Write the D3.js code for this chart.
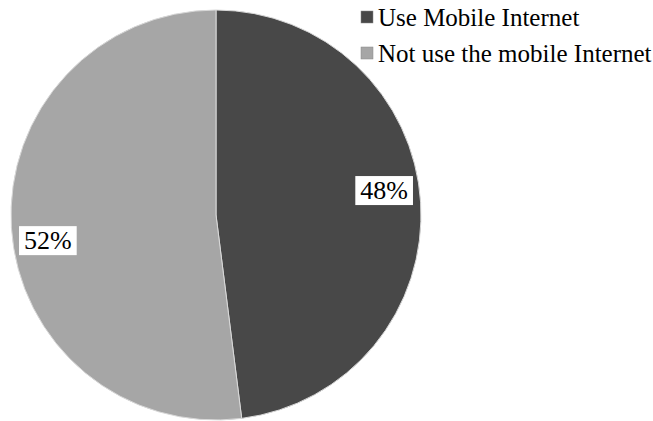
<!DOCTYPE html>
<html>
<head>
<meta charset="utf-8">
<script src="https://cdn.jsdelivr.net/npm/d3@7"></script>
<style>
  body { margin: 0; background: #fff; }
  text { font-family: "Liberation Serif", "Times New Roman", serif; }
</style>
</head>
<body>
<div id="chart"></div>
<script>
var svgWidth = 653;
var svgHeight = 421;

// data
var categories = ["Use Mobile Internet", "Not use the mobile Internet"];
var shares = [48, 52];
var colors = ["#484848", "#a6a6a6"];

var cx = 216, cy = 215, radius = 205;

var svg = d3.select("#chart")
  .append("svg")
  .attr("width", svgWidth)
  .attr("height", svgHeight);

var data = categories.map(function(c, i) {
  return { name: c, value: shares[i], color: colors[i] };
});

var pie = d3.pie().sort(null).value(d => d.value);
var arc = d3.arc().innerRadius(0).outerRadius(radius);

var pieGroup = svg.append("g")
  .attr("transform", `translate(${cx}, ${cy})`);

var slices = pieGroup.selectAll("g.slice")
  .data(pie(data))
  .enter().append("g")
  .attr("class", "slice");

slices.append("path")
  .attr("d", arc)
  .attr("fill", d => d.data.color)
  .attr("stroke", "#d8d8d8")
  .attr("stroke-width", 1);

// labels with white boxes, a bit counter-clockwise of the slice middle
var labelR = 170;
slices.each(function(d) {
  var g = d3.select(this);
  var a = (d.startAngle + d.endAngle) / 2 - 0.085;
  var px = labelR * Math.sin(a), py = -labelR * Math.cos(a);
  var t = g.append("text")
    .attr("x", px)
    .attr("y", py)
    .attr("text-anchor", "middle")
    .attr("dy", "0.35em")
    .attr("font-size", 26)
    .attr("fill", "#000")
    .text(d.data.value + "%");
  var b = t.node().getBBox();
  g.insert("rect", "text")
    .attr("x", b.x - 5)
    .attr("y", b.y)
    .attr("width", b.width + 10)
    .attr("height", b.height)
    .attr("fill", "#fff");
});

// legend
var legend = svg.append("g")
  .attr("transform", "translate(361, 0)");

var items = legend.selectAll("g.item")
  .data(data)
  .enter().append("g")
  .attr("class", "item")
  .attr("transform", (d, i) => `translate(0, ${i * 36})`);

items.append("rect")
  .attr("x", 0)
  .attr("y", 11)
  .attr("width", 12)
  .attr("height", 12)
  .attr("fill", d => d.color)
  .attr("stroke", "#888")
  .attr("stroke-width", 0.5);

items.append("text")
  .attr("x", 17)
  .attr("y", 26)
  .attr("font-size", 25)
  .attr("fill", "#000")
  .text(d => d.name);
</script>
</body>
</html>
